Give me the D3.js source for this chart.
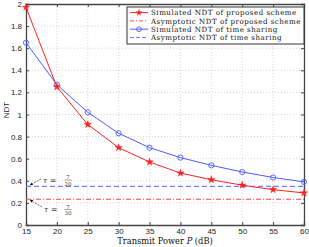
<!DOCTYPE html>
<html lang="en">
<head>
<meta charset="UTF-8">
<title>NDT</title>
<script src="https://cdn.jsdelivr.net/npm/d3@7"></script>
<style>
  body{margin:0;background:#fff}
  .tick text{font-family:"Liberation Sans",Arial,sans-serif;font-size:8px;fill:#222}
  .serif{font-family:"DejaVu Serif","Liberation Serif",serif}
</style>
</head>
<body>
<div class="chart"></div>
<script>
    // data
    let power=[15,20,25,30,35,40,45,50,55,60]
    let simProposed=[1.97,1.25,0.91,0.70,0.57,0.47,0.41,0.36,0.32,0.29]
    let simSharing=[1.65,1.27,1.02,0.83,0.70,0.61,0.54,0.48,0.43,0.39]
    let asymProposed=7/30
    let asymSharing=7/20
    let xTicks=[15,20,25,30,35,40,45,50,55,60]
    let yTicks=[0,0.2,0.4,0.6,0.8,1,1.2,1.4,1.6,1.8,2]
    let legendNames=['Simulated NDT of proposed scheme','Asymptotic NDT of proposed scheme','Simulated NDT of time sharing','Asymptotic NDT of time sharing']

    let W=309,H=247
    let pL=26,pR=304,pT=4,pB=225
    let svg=d3.select('.chart').append('svg').attr('width',W).attr('height',H)
    let x=d3.scaleLinear().domain([15,60]).range([pL,pR])
    let y=d3.scaleLinear().domain([0,2]).range([pB,pT])

    //grid
    let grid=svg.append('g').attr('stroke','#bbb').attr('stroke-width',0.6).attr('stroke-dasharray','1,2')
    xTicks.slice(1,-1).forEach(t=>grid.append('line').attr('x1',x(t)).attr('x2',x(t)).attr('y1',pT).attr('y2',pB))
    yTicks.slice(1,-1).forEach(t=>grid.append('line').attr('x1',pL).attr('x2',pR).attr('y1',y(t)).attr('y2',y(t)))

    //axes
    let fmt=d=>d3.format('~g')(d)
    svg.append('g').attr('transform','translate(0,'+pB+')')
        .call(d3.axisBottom(x).tickValues(xTicks).tickSize(-3).tickPadding(3).tickFormat(fmt))
    svg.append('g').attr('transform','translate('+pL+',0)')
        .call(d3.axisLeft(y).tickValues(yTicks).tickSize(-3).tickPadding(4).tickFormat(fmt))
    svg.append('g').attr('transform','translate(0,'+pT+')')
        .call(d3.axisTop(x).tickValues(xTicks).tickSize(-3).tickFormat(''))
    svg.append('g').attr('transform','translate('+pR+',0)')
        .call(d3.axisRight(y).tickValues(yTicks).tickSize(-3).tickFormat(''))
    svg.selectAll('.domain').attr('stroke','#444').attr('stroke-width',1.3)
    svg.selectAll('.tick line').attr('stroke','#444')

    //asymptotes
    svg.append('line').attr('x1',pL).attr('x2',pR).attr('y1',y(asymSharing)).attr('y2',y(asymSharing))
        .attr('stroke','#6f7fff').attr('stroke-width',1.2).attr('stroke-dasharray','5,3')
    svg.append('line').attr('x1',pL).attr('x2',pR).attr('y1',y(asymProposed)).attr('y2',y(asymProposed))
        .attr('stroke','#ff4545').attr('stroke-width',1.1).attr('stroke-dasharray','5,2,1,2')

    //curves
    let line=d3.line().x((d,i)=>x(power[i])).y(d=>y(d))
    svg.append('path').datum(simSharing).attr('d',line).attr('fill','none').attr('stroke','#4d5cff').attr('stroke-width',1)
    svg.append('path').datum(simProposed).attr('d',line).attr('fill','none').attr('stroke','#ff2020').attr('stroke-width',1)
    svg.selectAll('.circ').data(simSharing).enter().append('circle')
        .attr('cx',(d,i)=>x(power[i])).attr('cy',d=>y(d)).attr('r',2.6)
        .attr('fill','none').attr('stroke','#4d5cff').attr('stroke-width',0.9)
    let star=d3.symbol().type(d3.symbolStar).size(16)
    svg.selectAll('.star').data(simProposed).enter().append('path')
        .attr('d',star).attr('transform',(d,i)=>'translate('+x(power[i])+','+y(d)+')')
        .attr('fill','#ff2020').attr('stroke','#ff2020').attr('stroke-width',0.5)

    //legend
    let lg=svg.append('g').attr('class','serif')
    lg.append('rect').attr('x',127).attr('y',7).attr('width',177).attr('height',37)
        .attr('fill','#fff').attr('stroke','#333').attr('stroke-width',1)
    let styles=[
        {c:'#ff2020',dash:null,m:'star'},
        {c:'#ff4545',dash:'4,2,1,2',m:null},
        {c:'#4d5cff',dash:null,m:'circ'},
        {c:'#6f7fff',dash:'4,2',m:null}]
    legendNames.forEach((n,i)=>{
        let ly=12.6+i*8.3
        lg.append('line').attr('x1',130).attr('x2',148).attr('y1',ly).attr('y2',ly)
            .attr('stroke',styles[i].c).attr('stroke-width',1).attr('stroke-dasharray',styles[i].dash)
        if(styles[i].m==='star') lg.append('path').attr('d',star).attr('transform','translate(139,'+ly+')').attr('fill',styles[i].c)
        if(styles[i].m==='circ') lg.append('circle').attr('cx',139).attr('cy',ly).attr('r',2.4).attr('fill','none').attr('stroke',styles[i].c).attr('stroke-width',0.9)
        lg.append('text').attr('x',151).attr('y',ly+2.6).attr('font-size',7.1).attr('letter-spacing',0.5).attr('fill','#111').text(n)
    })

    //labels
    svg.append('text').attr('class','serif').attr('x',165).attr('y',243.5).attr('text-anchor','middle')
        .attr('font-size',8.3).attr('fill','#111')
        .html('Transmit Power <tspan font-style="italic">P</tspan> (dB)')
    svg.append('text').attr('transform','translate(9,110) rotate(-90)').attr('text-anchor','middle')
        .attr('font-family','Liberation Sans,Arial,sans-serif').attr('font-size',8).attr('fill','#222').text('NDT')

    //annotations
    let defs=svg.append('defs')
    defs.append('marker').attr('id','arr').attr('viewBox','0 0 10 10').attr('refX',9).attr('refY',5)
        .attr('markerWidth',5).attr('markerHeight',5).attr('orient','auto')
        .append('path').attr('d','M0,0L10,5L0,10z').attr('fill','#111')
    function annot(tx,ty,ax,ay,base,den){
        svg.append('line').attr('x1',tx).attr('y1',ty).attr('x2',ax).attr('y2',ay)
            .attr('stroke','#111').attr('stroke-width',0.6).attr('stroke-dasharray','2,1').attr('marker-end','url(#arr)')
        let g=svg.append('g').attr('class','serif').attr('fill','#444')
        g.append('text').attr('x',tx+2).attr('y',base).attr('font-size',7.5).attr('font-style','italic').text('τ')
        g.append('text').attr('x',tx+9).attr('y',base).attr('font-size',7.5).text('=')
        let bar=base-2.5
        g.append('text').attr('x',68).attr('y',bar-1).attr('font-size',5.5).attr('text-anchor','middle').text('7')
        g.append('line').attr('x1',64.5).attr('x2',71.5).attr('y1',bar).attr('y2',bar).attr('stroke','#444').attr('stroke-width',0.5)
        g.append('text').attr('x',68).attr('y',bar+5.5).attr('font-size',5.5).attr('text-anchor','middle').text(den)
    }
    annot(41,179,30,185,182.5,'20')
    annot(42,207,30,200,212,'30')
</script>
</body>
</html>
